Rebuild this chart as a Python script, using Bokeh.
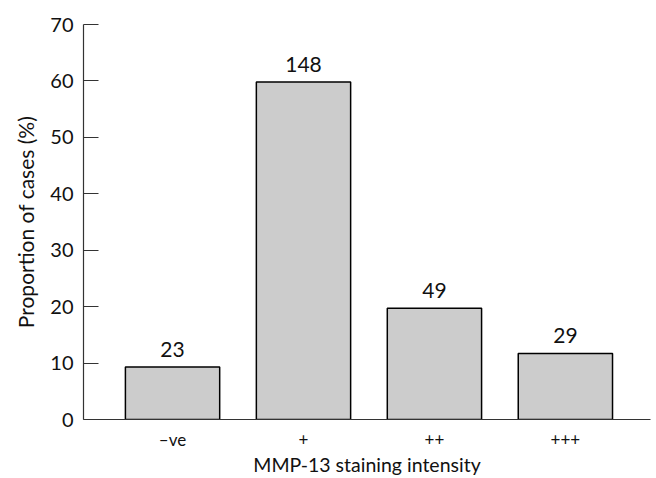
from bokeh.plotting import figure
from bokeh.models import ColumnDataSource, Range1d, FixedTicker
from bokeh.embed import file_html
from bokeh.resources import INLINE
from bokeh.core.properties import value

categories = ["\u2013ve", "+", "++", "+++"]
proportions = [9.3, 59.8, 19.7, 11.7]
counts = ["23", "148", "49", "29"]
y_ticks = [0, 10, 20, 30, 40, 50, 60, 70]

xs = list(range(1, len(categories) + 1))
src = ColumnDataSource(dict(x=xs, top=proportions, label=counts))

FONT = "Lato"

p = figure(width=656, height=478, output_backend="svg", toolbar_location=None,
           x_range=Range1d(0.32, 4.65), y_range=Range1d(0, 70),
           min_border_left=83, min_border_right=6, min_border_top=24, min_border_bottom=58)
p.outline_line_color = None
p.grid.visible = False
p.background_fill_color = "white"

p.vbar(x="x", top="top", width=0.72, bottom=0, source=src,
       fill_color="#cccccc", line_color="black", line_width=1.5)
p.text(x="x", y="top", text="label", source=src, text_align="center",
       text_baseline="bottom", y_offset=-10, text_font=value(FONT),
       text_font_size="21px", text_color="#111111")

xa = p.xaxis[0]
xa.ticker = FixedTicker(ticks=xs)
xa.major_label_overrides = {i: c for i, c in zip(xs, categories)}
xa.major_tick_line_color = None
xa.minor_tick_line_color = None
xa.major_label_standoff = 3
xa.major_label_text_font = FONT
xa.major_label_text_font_size = "17px"
xa.major_label_text_color = "#111111"
xa.axis_label = "MMP-13 staining intensity"
xa.axis_label_standoff = 0
xa.axis_label_text_font = FONT
xa.axis_label_text_font_size = "19.5px"
xa.axis_label_text_font_style = "normal"
xa.axis_label_text_color = "#111111"
xa.axis_line_color = "#333333"
xa.axis_line_width = 1.2

ya = p.yaxis[0]
ya.ticker = FixedTicker(ticks=y_ticks)
ya.major_tick_in = 15
ya.major_tick_out = 0
ya.minor_tick_line_color = None
ya.major_tick_line_color = "#333333"
ya.major_label_standoff = 10
ya.major_label_text_font = FONT
ya.major_label_text_font_size = "20px"
ya.major_label_text_color = "#111111"
ya.axis_label = "Proportion of cases (%)"
ya.axis_label_standoff = 9
ya.axis_label_text_font = FONT
ya.axis_label_text_font_size = "21px"
ya.axis_label_text_font_style = "normal"
ya.axis_label_text_color = "#111111"
ya.axis_line_color = "#333333"
ya.axis_line_width = 1.2

open("out.html", "w").write(file_html(p, INLINE))
